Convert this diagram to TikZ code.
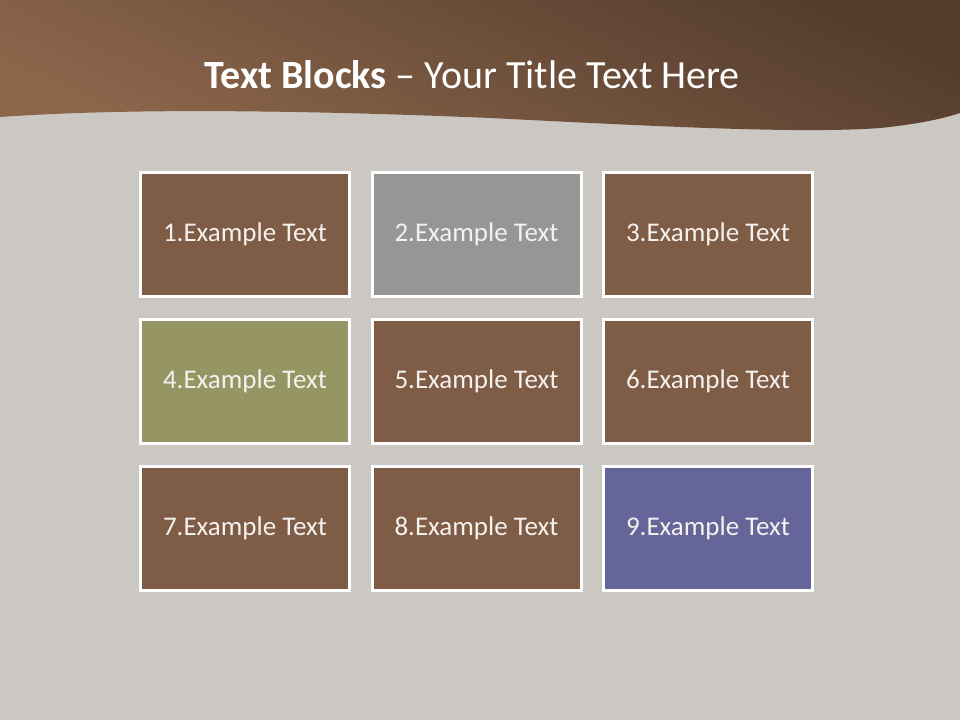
\documentclass[tikz,border=0pt]{standalone}
\usepackage{fontspec}
\setmainfont{Carlito}
\definecolor{bgc}{HTML}{CBC7C3}
\definecolor{bandtop}{HTML}{553D2D}
\definecolor{bandbot}{HTML}{8C664B}
\definecolor{boxbrown}{HTML}{7F5C45}
\definecolor{boxgray}{HTML}{969696}
\definecolor{boxolive}{HTML}{959664}
\definecolor{boxpurple}{HTML}{656599}
\definecolor{txt}{HTML}{F4F1EE}
\begin{document}
\begin{tikzpicture}[x=0.75pt,y=-0.75pt,
  block/.style={draw=white, line width=2.25pt, minimum width=156.75pt, minimum height=93pt,
    inner sep=0pt, text=txt, font=\fontsize{20.25}{24}\selectfont}]
\useasboundingbox (0,0) rectangle (960,720);
\fill[bgc] (0,0) rectangle (960,720);
\shade[top color=bandtop, bottom color=bandbot, shading angle=-25]
  (0,0) -- (960,0) -- (960,113)
  .. controls (945,118) and (920,124) .. (880,128)
  .. controls (800,134) and (650,126) .. (490,118)
  .. controls (250,108) and (100,110) .. (0,117) -- cycle;
\node[text=white, font=\fontsize{30}{36}\selectfont] (title) at (472,75)
  {\textbf{Text Blocks} – Your Title Text Here};
\node[block, fill=boxbrown]  (b1) at (245,234.5) {1.Example Text};
\node[block, fill=boxgray]   (b2) at (476.5,234.5) {2.Example Text};
\node[block, fill=boxbrown]  (b3) at (708,234.5) {3.Example Text};
\node[block, fill=boxolive]  (b4) at (245,381.5) {4.Example Text};
\node[block, fill=boxbrown]  (b5) at (476.5,381.5) {5.Example Text};
\node[block, fill=boxbrown]  (b6) at (708,381.5) {6.Example Text};
\node[block, fill=boxbrown]  (b7) at (245,528.5) {7.Example Text};
\node[block, fill=boxbrown]  (b8) at (476.5,528.5) {8.Example Text};
\node[block, fill=boxpurple] (b9) at (708,528.5) {9.Example Text};
\end{tikzpicture}
\end{document}
